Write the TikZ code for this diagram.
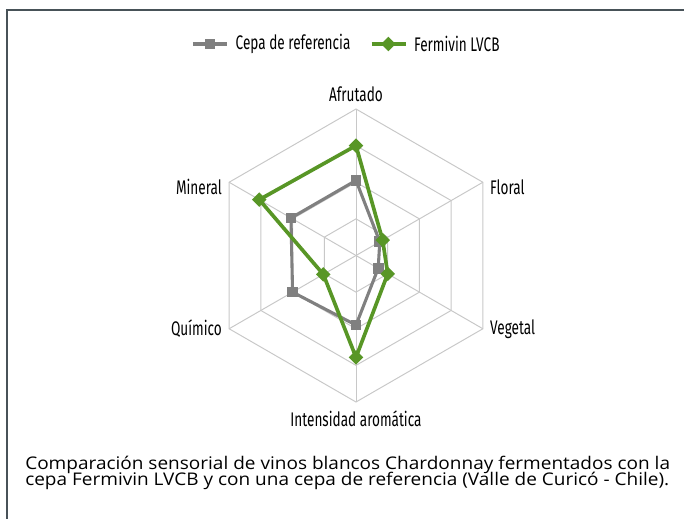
\documentclass[tikz,border=0pt]{standalone}
\usepackage{fontspec}
\setmainfont[FakeStretch=1.09]{Open Sans}
\newfontfamily\condfont[FakeStretch=0.69]{Fira Sans}
\usetikzlibrary{positioning}
\usetikzlibrary{shapes.geometric}
\definecolor{refgray}{RGB}{128,128,128}
\definecolor{lvcbgreen}{RGB}{88,150,38}
\definecolor{gridgray}{RGB}{200,200,200}
\definecolor{framegray}{RGB}{72,82,88}

\tikzset{
  axislabel/.style={font=\condfont\fontsize{14}{16}\selectfont, inner sep=1pt},
  refmark/.style={fill=refgray, minimum size=7.6pt, inner sep=0pt},
  lvcbmark/.style={diamond, fill=lvcbgreen, minimum size=10.5pt, inner sep=0pt},
  captiontext/.style={font=\fontsize{12.4}{15}\selectfont, inner sep=0pt, anchor=base west}
}

\begin{document}
\begin{tikzpicture}
  \useasboundingbox (-8.9,-6.5625) rectangle (8.2,6.3875);
  \draw[framegray, line width=1pt] %
    (-8.725,-6.7) -- (-8.725,6.1375) -- (8.4,6.1375);
  % grid
  \foreach \r in {1,2,3,4}
    \draw[gridgray, line width=0.7pt] (90:{\r*0.9156}) -- (30:{\r*0.9156}) %
      -- (-30:{\r*0.9156}) -- (-90:{\r*0.9156}) -- (-150:{\r*0.9156}) %
      -- (150:{\r*0.9156}) -- cycle;
  \foreach \a in {90,30,-30,-90,-150,150}
    \draw[gridgray, line width=0.7pt] (0,0) -- (\a:3.6625);
  % axis labels
  \node[axislabel, above=4pt] (afrutado) at (90:3.6625) {Afrutado};
  \node[axislabel, right=4pt, yshift=-3.5pt] (floral) at (30:3.6625) {Floral};
  \node[axislabel, right=4pt] (vegetal) at (-30:3.6625) {Vegetal};
  \node[axislabel, below=5pt] (intensidad) at (-90:3.6625) {Intensidad aromática};
  \node[axislabel, left=4pt] (quimico) at (-150:3.6625) {Químico};
  \node[axislabel, left=4pt, yshift=-3.5pt] (mineral) at (150:3.6625) {Mineral};
  % data
  \foreach \v [count=\i] in {2.05,0.75,0.7,1.9,2.0,2.05}
    \coordinate (ref\i) at ({150-60*\i}:{\v*0.9156});
  \foreach \v [count=\i] in {3.0,0.84,1.0,2.78,1.03,3.05}
    \coordinate (lvcb\i) at ({150-60*\i}:{\v*0.9156});
  \draw[refgray, line width=2.2pt, line join=round] %
    (ref1) -- (ref2) -- (ref3) -- (ref4) -- (ref5) -- (ref6) -- cycle;
  \foreach \i in {1,...,6}
    \node[refmark] (refpt\i) at (ref\i) {};
  \draw[lvcbgreen, line width=2.6pt, line join=round] %
    (lvcb1) -- (lvcb2) -- (lvcb3) -- (lvcb4) -- (lvcb5) -- (lvcb6) -- cycle;
  \foreach \i in {1,...,6}
    \node[lvcbmark] (lvcbpt\i) at (lvcb\i) {};
  % legend
  \coordinate (refkeyA) at (-4.08,5.2875);
  \coordinate (refkeyB) at (-3.23,5.2875);
  \draw[refgray, line width=2.2pt] (refkeyA) -- (refkeyB);
  \node[refmark] (refkey) at (-3.65,5.2875) {};
  \node[axislabel, anchor=west] (reftext) at (-3.05,5.2875) {Cepa de referencia};
  \coordinate (lvcbkeyA) at (0.39,5.2875);
  \coordinate (lvcbkeyB) at (1.25,5.2875);
  \draw[lvcbgreen, line width=2.6pt] (lvcbkeyA) -- (lvcbkeyB);
  \node[lvcbmark] (lvcbkey) at (0.81,5.2875) {};
  \node[axislabel, anchor=west] (lvcbtext) at (1.41,5.2875) {Fermivin LVCB};
  % caption
  \node[captiontext] (caption1) at (-8.275,-5.3375) %
    {Comparación sensorial de vinos blancos Chardonnay fermentados con la};
  \node[captiontext] (caption2) at (-8.275,-5.7375) %
    {cepa Fermivin LVCB y con una cepa de referencia (Valle de Curicó - Chile).};
\end{tikzpicture}
\end{document}
